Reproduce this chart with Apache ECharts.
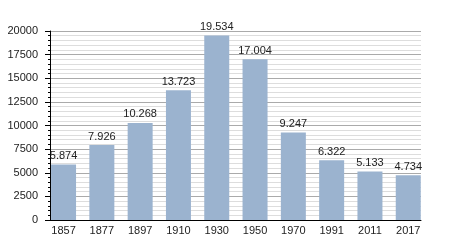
<!DOCTYPE html>
<html>
<head>
<meta charset="utf-8">
<script src="https://cdn.jsdelivr.net/npm/echarts@6/dist/echarts.min.js"></script>
<style>html,body{margin:0;padding:0;background:#fff}#c{width:450px;height:250px}</style>
</head>
<body>
<div id="c"></div>
<script>
var categories = ['1857','1877','1897','1910','1930','1950','1970','1991','2011','2017'];
var population = [5874, 7926, 10268, 13723, 19534, 17004, 9247, 6322, 5133, 4734];
var yTicks = [0, 2500, 5000, 7500, 10000, 12500, 15000, 17500, 20000];

function fmt(v){ return String(v).replace(/\B(?=(\d{3})+(?!\d))/g, '.'); }
var font = '"Liberation Sans", Arial, sans-serif';
var chart = echarts.init(document.getElementById('c'), null, {renderer:'canvas'});
chart.setOption({
  animation: false,
  grid: [
    {left: 50, right: 29, top: 31, bottom: 30},
    {left: 44.4, right: 22.6, top: 31, bottom: 30}
  ],
  xAxis: [
    {type:'category', gridIndex:0, data: categories,
     axisLine:{show:true, lineStyle:{color:'#000', width:1}},
     axisTick:{show:false}, axisLabel:{show:false}, splitLine:{show:false}},
    {type:'category', gridIndex:1, data: categories,
     axisLine:{show:false}, axisTick:{show:false},
     axisLabel:{show:true, fontSize:11, color:'#222', fontFamily:font, margin:5}}
  ],
  yAxis: [
    {type:'value', gridIndex:0, position:'left', min: yTicks[0], max: yTicks[yTicks.length-1], interval: 500,
     axisLine:{show:false},
     axisTick:{show:true, inside:false, length:2, lineStyle:{color:'#000', width:1}},
     axisLabel:{show:false},
     splitLine:{show:true, lineStyle:{color:'#ddd', width:1}}},
    {type:'value', gridIndex:0, position:'left', min: yTicks[0], max: yTicks[yTicks.length-1], interval: 2500,
     axisLine:{show:true, lineStyle:{color:'#000', width:1}},
     axisTick:{show:true, inside:false, length:5, lineStyle:{color:'#000', width:1}},
     axisLabel:{fontSize:11, color:'#222', fontFamily:font, margin:12,
       formatter: function(v){ return String(v); }},
     splitLine:{show:true, lineStyle:{color:'#aaa', width:1}}},
    {type:'value', gridIndex:1, min: yTicks[0], max: yTicks[yTicks.length-1],
     show:false, axisTick:{show:false}, axisLine:{show:false}, axisLabel:{show:false}, splitLine:{show:false}}
  ],
  series: [{
    type:'bar', xAxisIndex:1, yAxisIndex:2, data: population, barWidth: 25,
    itemStyle:{color:'#9bb3cf'},
    label:{show:true, position:'top', distance:3, fontSize:11, color:'#222', fontFamily:font,
      formatter: function(p){ return fmt(p.value); }}
  }]
});
</script>
</body>
</html>
